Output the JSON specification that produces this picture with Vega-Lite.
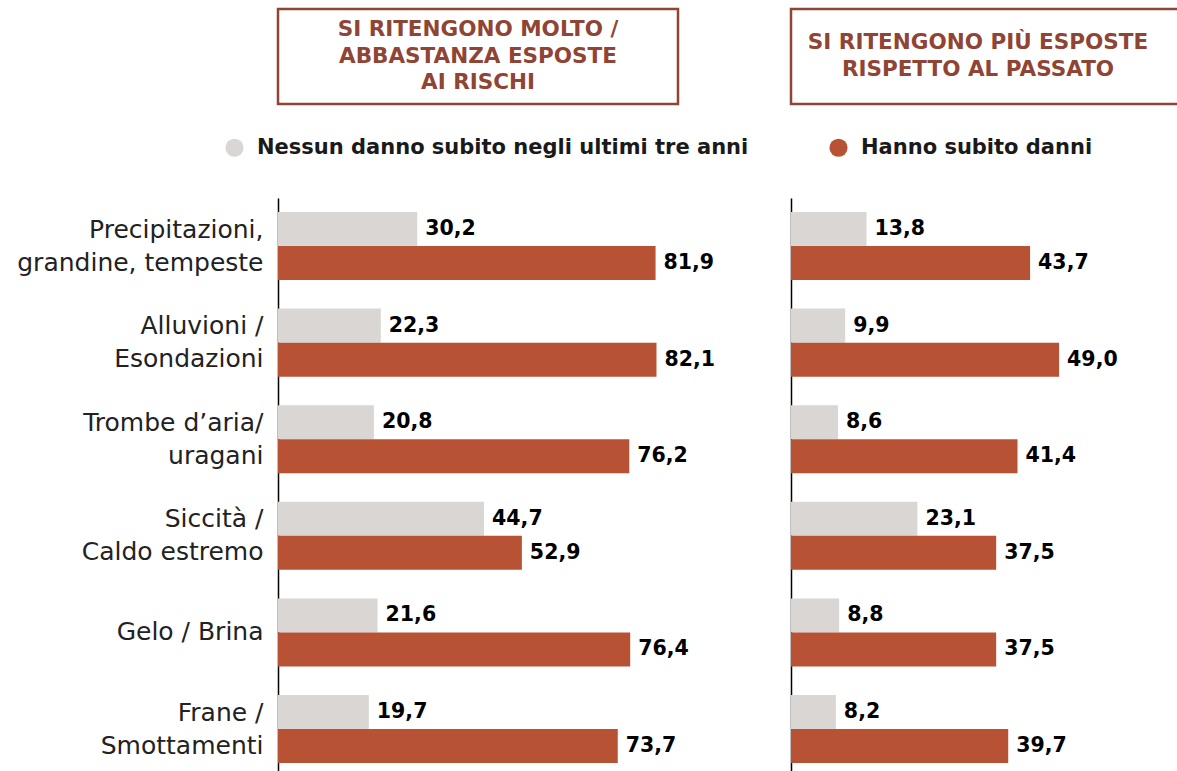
{
  "$schema": "https://vega.github.io/schema/vega-lite/v6.json",
  "padding": {"left": 16, "top": 7, "right": 0, "bottom": 0},
  "background": "#ffffff",
  "config": {"view": {"stroke": null}, "font": "DejaVu Sans"},
  "datasets": {
    "molto": [
      {"cat": "Precipitazioni,|grandine, tempeste", "serie": "Nessun danno subito negli ultimi tre anni", "val": 30.2},
      {"cat": "Precipitazioni,|grandine, tempeste", "serie": "Hanno subito danni", "val": 81.9},
      {"cat": "Alluvioni /|Esondazioni", "serie": "Nessun danno subito negli ultimi tre anni", "val": 22.3},
      {"cat": "Alluvioni /|Esondazioni", "serie": "Hanno subito danni", "val": 82.1},
      {"cat": "Trombe d’aria/|uragani", "serie": "Nessun danno subito negli ultimi tre anni", "val": 20.8},
      {"cat": "Trombe d’aria/|uragani", "serie": "Hanno subito danni", "val": 76.2},
      {"cat": "Siccità /|Caldo estremo", "serie": "Nessun danno subito negli ultimi tre anni", "val": 44.7},
      {"cat": "Siccità /|Caldo estremo", "serie": "Hanno subito danni", "val": 52.9},
      {"cat": "Gelo / Brina", "serie": "Nessun danno subito negli ultimi tre anni", "val": 21.6},
      {"cat": "Gelo / Brina", "serie": "Hanno subito danni", "val": 76.4},
      {"cat": "Frane /|Smottamenti", "serie": "Nessun danno subito negli ultimi tre anni", "val": 19.7},
      {"cat": "Frane /|Smottamenti", "serie": "Hanno subito danni", "val": 73.7}
    ],
    "piu": [
      {"cat": "Precipitazioni,|grandine, tempeste", "serie": "Nessun danno subito negli ultimi tre anni", "val": 13.8},
      {"cat": "Precipitazioni,|grandine, tempeste", "serie": "Hanno subito danni", "val": 43.7},
      {"cat": "Alluvioni /|Esondazioni", "serie": "Nessun danno subito negli ultimi tre anni", "val": 9.9},
      {"cat": "Alluvioni /|Esondazioni", "serie": "Hanno subito danni", "val": 49.0},
      {"cat": "Trombe d’aria/|uragani", "serie": "Nessun danno subito negli ultimi tre anni", "val": 8.6},
      {"cat": "Trombe d’aria/|uragani", "serie": "Hanno subito danni", "val": 41.4},
      {"cat": "Siccità /|Caldo estremo", "serie": "Nessun danno subito negli ultimi tre anni", "val": 23.1},
      {"cat": "Siccità /|Caldo estremo", "serie": "Hanno subito danni", "val": 37.5},
      {"cat": "Gelo / Brina", "serie": "Nessun danno subito negli ultimi tre anni", "val": 8.8},
      {"cat": "Gelo / Brina", "serie": "Hanno subito danni", "val": 37.5},
      {"cat": "Frane /|Smottamenti", "serie": "Nessun danno subito negli ultimi tre anni", "val": 8.2},
      {"cat": "Frane /|Smottamenti", "serie": "Hanno subito danni", "val": 39.7}
    ]
  },
  "spacing": 50,
  "hconcat": [
    {
      "bounds": "flush",
      "spacing": 94,
      "vconcat": [
        {
          "width": 400,
          "height": 95,
          "view": {"stroke": "#8f4434", "strokeWidth": 2.5},
          "data": {"values": [{"h": 1}]},
          "mark": {"type": "text", "align": "center", "baseline": "middle", "dy": -26.5, "fontSize": 21.5, "fontWeight": "bold", "color": "#8f4434", "lineHeight": 26.5},
          "encoding": {"text": {"value": ["SI RITENGONO MOLTO /", "ABBASTANZA ESPOSTE", "AI RISCHI"]}}
        },
        {
          "width": 461,
          "height": 574,
          "data": {"name": "molto"},
          "transform": [{"calculate": "replace(format(datum.val, '.1f'), '.', ',')", "as": "lab"}],
          "encoding": {
            "y": {
              "field": "cat", "type": "nominal", "sort": null,
              "scale": {"paddingInner": 0.296, "paddingOuter": 0.119, "align": 0.61},
              "axis": {"title": null, "domain": true, "domainColor": "#000000", "domainWidth": 1.5, "ticks": false, "labelPadding": 15, "labelFontSize": 25, "labelColor": "#222222", "labelLineHeight": 33, "labelLimit": 500,
                "labelOffset": {"condition": {"test": "indexof(datum.value, '|') >= 0", "value": -16.5}, "value": 0},
                "labelExpr": "split(datum.value, '|')"}
            },
            "yOffset": {"field": "serie", "type": "nominal", "sort": ["Nessun danno subito negli ultimi tre anni", "Hanno subito danni"], "scale": {"paddingInner": 0, "paddingOuter": 0}},
            "x": {"field": "val", "type": "quantitative", "scale": {"domain": [0, 100]}, "axis": null}
          },
          "layer": [
            {
              "mark": {"type": "bar"},
              "encoding": {
                "color": {
                  "field": "serie", "type": "nominal",
                  "scale": {"domain": ["Nessun danno subito negli ultimi tre anni", "Hanno subito danni"], "range": ["#dad6d3", "#b85235"]},
                  "legend": {
                    "title": null, "orient": "none", "direction": "horizontal", "legendX": -54, "legendY": 128,
                    "symbolType": "circle", "symbolSize": 330, "labelFontSize": 21, "labelFontWeight": "bold", "labelColor": "#1a1a1a",
                    "labelOffset": 12, "columnPadding": 79, "labelLimit": 800
                  }
                }
              }
            },
            {
              "mark": {"type": "text", "align": "left", "baseline": "middle", "dx": 8, "fontSize": 20.5, "fontWeight": "bold", "color": "#000000"},
              "encoding": {"text": {"field": "lab"}}
            }
          ]
        }
      ]
    },
    {
      "bounds": "flush",
      "spacing": 94,
      "vconcat": [
        {
          "width": 400,
          "height": 95,
          "view": {"stroke": "#8f4434", "strokeWidth": 2.5},
          "data": {"values": [{"h": 1}]},
          "mark": {"type": "text", "align": "center", "baseline": "middle", "dy": -13.25, "dx": -13, "fontSize": 21.5, "fontWeight": "bold", "color": "#8f4434", "lineHeight": 26.5},
          "encoding": {"text": {"value": ["SI RITENGONO PIÙ ESPOSTE", "RISPETTO AL PASSATO"]}}
        },
        {
          "width": 383,
          "height": 574,
          "data": {"name": "piu"},
          "transform": [{"calculate": "replace(format(datum.val, '.1f'), '.', ',')", "as": "lab"}],
          "encoding": {
            "y": {
              "field": "cat", "type": "nominal", "sort": null,
              "scale": {"paddingInner": 0.296, "paddingOuter": 0.119, "align": 0.61},
              "axis": {"title": null, "domain": true, "domainColor": "#000000", "domainWidth": 1.5, "ticks": false, "labels": false}
            },
            "yOffset": {"field": "serie", "type": "nominal", "sort": ["Nessun danno subito negli ultimi tre anni", "Hanno subito danni"], "scale": {"paddingInner": 0, "paddingOuter": 0}},
            "x": {"field": "val", "type": "quantitative", "scale": {"domain": [0, 70]}, "axis": null}
          },
          "layer": [
            {
              "mark": {"type": "bar"},
              "encoding": {
                "color": {
                  "field": "serie", "type": "nominal",
                  "scale": {"domain": ["Nessun danno subito negli ultimi tre anni", "Hanno subito danni"], "range": ["#dad6d3", "#b85235"]},
                  "legend": {
                    "title": null, "orient": "none", "direction": "horizontal", "legendX": -54, "legendY": 128,
                    "symbolType": "circle", "symbolSize": 330, "labelFontSize": 21, "labelFontWeight": "bold", "labelColor": "#1a1a1a",
                    "labelOffset": 12, "columnPadding": 79, "labelLimit": 800
                  }
                }
              }
            },
            {
              "mark": {"type": "text", "align": "left", "baseline": "middle", "dx": 8, "fontSize": 20.5, "fontWeight": "bold", "color": "#000000"},
              "encoding": {"text": {"field": "lab"}}
            }
          ]
        }
      ]
    }
  ]
}
